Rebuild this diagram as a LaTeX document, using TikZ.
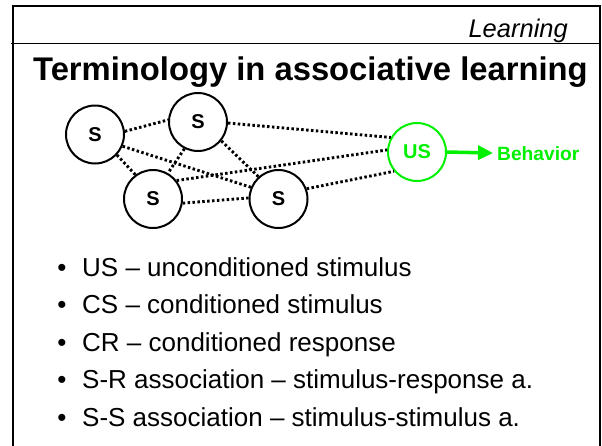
\documentclass[tikz,border=0pt]{standalone}
\usepackage{fontspec}
\setmainfont{Liberation Sans}
\usetikzlibrary{arrows.meta}
\definecolor{usgreen}{RGB}{0,240,0}
\tikzset{
  snode/.style={circle,draw=black,line width=2pt,minimum size=58pt,inner sep=0pt,font=\fontsize{20}{20}\selectfont\bfseries},
  usnode/.style={snode,draw=usgreen,text=usgreen},
  assoc/.style={line width=2.9pt,dash pattern=on 2.5pt off 2.4pt,black},
  bul/.style={anchor=base,font=\fontsize{26}{28}\selectfont},
  item/.style={anchor=base west,font=\fontsize{26}{28}\selectfont},
}
\begin{document}
\begin{tikzpicture}[x=1pt,y=-1pt]
\useasboundingbox (0,0) rectangle (602,445);
% frame
\draw[line width=2pt] (13,446) -- (13,6) -- (600,6) -- (600,446);
\draw[line width=1pt] (11,43) -- (600,43);
\node[anchor=base east,inner sep=0pt,font=\fontsize{25.5}{26}\selectfont\itshape] (hdr) at (568,37) {Learning};
\node[anchor=base west,inner sep=0pt,font=\fontsize{32.75}{36}\selectfont\bfseries] (title) at (33,80) {Terminology in associative learning};
% nodes
\node[snode] (s1) at (95,134.5) {S};
\node[snode] (s2) at (198,122) {S};
\node[snode] (s3) at (153,199) {S};
\node[snode] (s4) at (278.5,199) {S};
\node[usnode] (us) at (417,152) {US};
\node[anchor=base west,inner sep=0pt,text=usgreen,font=\fontsize{19.2}{20}\selectfont\bfseries] (beh) at (497,160) {Behavior};
% associations
\draw[assoc] (s1.6) -- (s2.176);
\draw[assoc] (s1.-43) -- (s3.126);
\draw[assoc] (s1.-23) -- (s4.157);
\draw[assoc] (s2.243) -- (s3.60);
\draw[assoc] (s2.-39) -- (s4.132);
\draw[assoc] (s2.-2) -- (us.151);
\draw[assoc] (s3.38) -- (us.176);
\draw[assoc] (s3.-8) -- (s4.178);
\draw[assoc] (s4.20) -- (us.220);
\draw[usgreen,line width=3.5pt,-{Triangle[length=15pt,width=14pt]}, shorten >=4pt] (us.east) -- (beh.west);
% bullets
\foreach \y/\t [count=\i] in {276.5/{US – unconditioned stimulus},313.9/{CS – conditioned stimulus},351.3/{CR – conditioned response},388.7/{S-R association – stimulus-response a.},426/{S-S association – stimulus-stimulus a.}}{
  \node[bul] (b\i) at (62,\y) {•};
  \node[item,inner sep=0pt] (t\i) at (82,\y) {\t};
}
\end{tikzpicture}
\end{document}
